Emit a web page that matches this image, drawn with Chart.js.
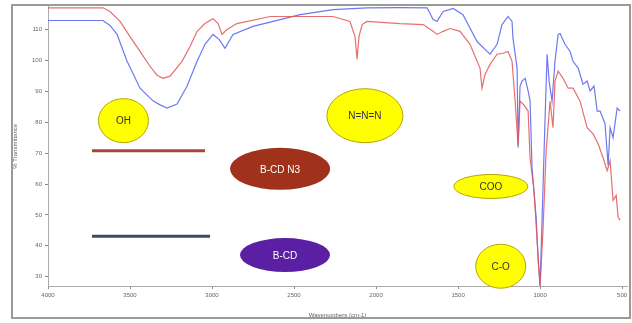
<!DOCTYPE html>
<html>
<head>
<meta charset="utf-8">
<script src="https://cdn.jsdelivr.net/npm/chart.js@4/dist/chart.umd.min.js"></script>
<style>
  body { margin: 0; background: #fff; }
  canvas { display: block; }
</style>
</head>
<body>
<canvas id="irChart" width="632" height="323"></canvas>
<script>
// wavenumber (cm-1) and % transmittance
const blueWn = [4000, 3866, 3665, 3622, 3579, 3518, 3439, 3360, 3317, 3274, 3213, 3152, 3091, 3043, 2994, 2957, 2921, 2872, 2750, 2585, 2463, 2262, 2055, 1854, 1689, 1652, 1628, 1591, 1530, 1470, 1384, 1323, 1305, 1262, 1232, 1195, 1171, 1165, 1140, 1134, 1122, 1110, 1091, 1073, 1061, 1049, 1024, 1012, 1000, 988, 970, 957, 945, 927, 909, 890, 878, 848, 817, 799, 768, 738, 713, 695, 671, 652, 634, 604, 585, 573, 555, 530, 512];
const blueT = [112.9, 112.9, 112.9, 111.3, 108.4, 99.7, 91.0, 86.9, 85.6, 84.6, 85.9, 91.7, 99.7, 105.2, 108.4, 106.8, 103.9, 108.4, 111.0, 113.2, 114.8, 116.4, 117.0, 117.1, 117.0, 113.2, 112.6, 115.8, 116.8, 114.8, 106.1, 102.9, 102.0, 105.2, 111.6, 114.2, 112.6, 107.1, 97.5, 71.7, 91.7, 93.3, 94.2, 90.1, 86.8, 65.3, 49.2, 35.4, 27.0, 48.3, 80.4, 102.0, 93.3, 86.8, 99.7, 108.4, 108.7, 105.2, 102.9, 99.7, 97.5, 92.3, 93.3, 90.1, 91.7, 83.6, 83.6, 79.5, 66.0, 78.2, 75.0, 84.6, 83.6];

const redWn = [4000, 3665, 3622, 3561, 3500, 3439, 3378, 3335, 3299, 3256, 3183, 3134, 3091, 3043, 2994, 2963, 2939, 2909, 2848, 2646, 2463, 2262, 2159, 2128, 2116, 2104, 2085, 2055, 1854, 1713, 1652, 1628, 1591, 1549, 1488, 1427, 1366, 1354, 1335, 1305, 1262, 1226, 1195, 1171, 1152, 1134, 1122, 1104, 1073, 1061, 1037, 1018, 1000, 982, 963, 939, 921, 909, 890, 860, 829, 799, 756, 713, 677, 646, 616, 591, 573, 555, 536, 524, 512];
const redT = [117.0, 117.0, 115.8, 112.6, 107.7, 102.9, 98.1, 95.2, 94.2, 94.9, 99.7, 104.5, 109.4, 111.9, 113.5, 111.9, 108.4, 110.0, 111.9, 114.2, 114.2, 114.2, 112.6, 107.7, 100.4, 107.7, 111.6, 112.6, 111.9, 111.6, 109.4, 108.4, 109.4, 110.3, 109.4, 105.2, 97.5, 91.0, 95.5, 98.7, 102.0, 102.3, 102.9, 99.7, 86.8, 72.4, 86.8, 85.9, 83.6, 68.5, 57.9, 41.8, 27.0, 45.1, 70.8, 86.8, 78.2, 93.3, 96.5, 94.2, 91.0, 91.0, 86.8, 78.2, 76.2, 73.0, 68.5, 64.3, 67.5, 54.7, 56.3, 49.2, 48.3];

const xTicks = [4000, 3500, 3000, 2500, 2000, 1500, 1000, 500];
const yTicks = [30, 40, 50, 60, 70, 80, 90, 100, 110];

// labelled bubbles and legend strokes, placed in data units
const bubbles = [
  { text: 'OH', wn: 3540, t: 80.5, rx: 25, ry: 22, fill: '#ffff00', ink: '#333' },
  { text: 'N=N=N', wn: 2068, t: 82.1, rx: 38, ry: 27, fill: '#ffff00', ink: '#333' },
  { text: 'COO', wn: 1300, t: 59.2, rx: 37, ry: 12, fill: '#ffff00', ink: '#333' },
  { text: 'C-O', wn: 1240, t: 33.4, rx: 25, ry: 22, fill: '#ffff00', ink: '#333' },
  { text: 'B-CD N3', wn: 2585, t: 64.9, rx: 50, ry: 21, fill: '#a0311b', ink: '#fff' },
  { text: 'B-CD', wn: 2555, t: 37.0, rx: 45, ry: 17, fill: '#5a1fa3', ink: '#fff' }
];
const legendStrokes = [
  { from: 3732, to: 3043, t: 70.8, color: '#a4493a' },
  { from: 3732, to: 3012, t: 43.1, color: '#3f4b66' }
];

const toPoints = (xs, ys) => xs.map((x, i) => ({ x: x, y: ys[i] }));

const decorations = {
  id: 'decorations',
  afterDatasetsDraw(chart) {
    const ctx = chart.ctx;
    const xs = chart.scales.x, ys = chart.scales.y;
    ctx.save();
    legendStrokes.forEach(s => {
      ctx.strokeStyle = s.color;
      ctx.lineWidth = 3;
      ctx.beginPath();
      ctx.moveTo(xs.getPixelForValue(s.from), ys.getPixelForValue(s.t));
      ctx.lineTo(xs.getPixelForValue(s.to), ys.getPixelForValue(s.t));
      ctx.stroke();
    });
    bubbles.forEach(b => {
      const cx = xs.getPixelForValue(b.wn), cy = ys.getPixelForValue(b.t);
      ctx.beginPath();
      ctx.ellipse(cx, cy, b.rx, b.ry, 0, 0, Math.PI * 2);
      ctx.fillStyle = b.fill;
      ctx.fill();
      if (b.fill === '#ffff00') {
        ctx.strokeStyle = '#b5a400';
        ctx.lineWidth = 1;
        ctx.stroke();
      }
      ctx.fillStyle = b.ink;
      ctx.font = '10px "Liberation Sans", Arial, sans-serif';
      ctx.textAlign = 'center';
      ctx.textBaseline = 'middle';
      ctx.fillText(b.text, cx, cy + 1);
    });
    // outer frame
    ctx.strokeStyle = '#9a9a9a';
    ctx.lineWidth = 2;
    ctx.strokeRect(12, 5, 618, 313);
    ctx.restore();
  }
};

new Chart(document.getElementById('irChart'), {
  type: 'line',
  data: {
    datasets: [
      {
        label: 'B-CD N3',
        data: toPoints(redWn, redT),
        borderColor: 'rgba(226,86,86,0.85)',
        borderWidth: 1.2,
        pointRadius: 0,
        tension: 0
      },
      {
        label: 'B-CD',
        data: toPoints(blueWn, blueT),
        borderColor: 'rgba(84,96,240,0.85)',
        borderWidth: 1.2,
        pointRadius: 0,
        tension: 0
      }
    ]
  },
  options: {
    responsive: false,
    animation: false,
    layout: { padding: { left: 12, top: 5, right: 5, bottom: 0 } },
    plugins: { legend: { display: false }, tooltip: { enabled: false } },
    scales: {
      x: {
        type: 'linear',
        reverse: true,
        min: 470,
        max: 4000,
        afterBuildTicks: s => { s.ticks = xTicks.map(v => ({ value: v })); },
        afterFit: s => { s.height = 37; },
        grid: { drawOnChartArea: false, tickLength: 3, color: '#888' },
        border: { color: '#aaa', dash: [2, 1] },
        ticks: { color: '#666', font: { size: 6 }, padding: 3, maxRotation: 0, callback: v => String(v) },
        title: { display: true, text: 'Wavenumbers (cm-1)', color: '#666', font: { size: 6 }, padding: { top: 3 } }
      },
      y: {
        min: 27,
        max: 117.4,
        afterBuildTicks: s => { s.ticks = yTicks.map(v => ({ value: v })); },
        afterFit: s => { s.width = 36; },
        grid: { drawOnChartArea: false, tickLength: 3, color: '#888' },
        border: { color: '#aaa' },
        ticks: { color: '#666', font: { size: 6 }, padding: 3, callback: v => String(v) },
        title: { display: true, text: '% Transmittance', color: '#666', font: { size: 6 }, padding: 0 }
      }
    }
  },
  plugins: [decorations]
});
</script>
</body>
</html>
